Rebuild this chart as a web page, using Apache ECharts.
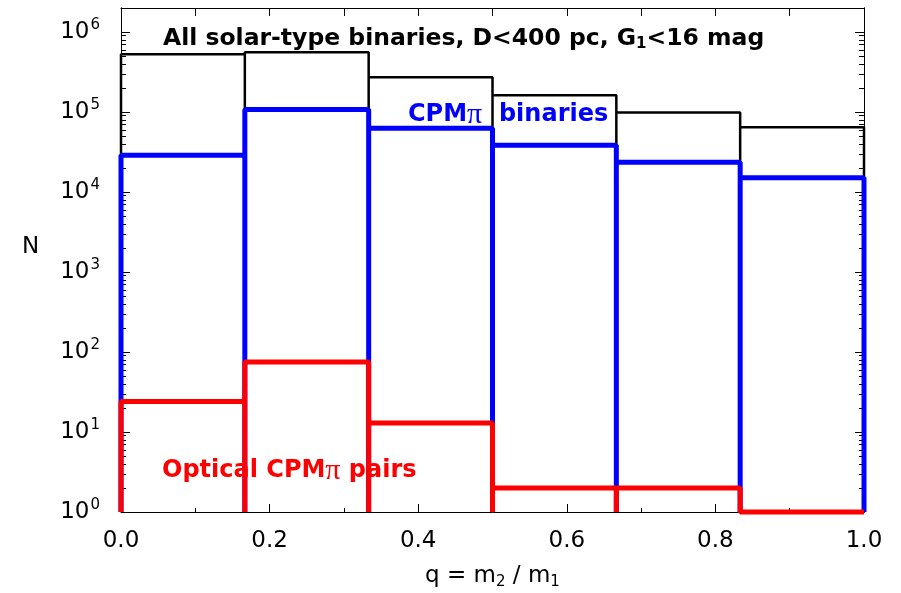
<!DOCTYPE html>
<html>
<head>
<meta charset="utf-8">
<script src="https://cdn.jsdelivr.net/npm/echarts@6/dist/echarts.min.js"></script>
<style>html,body{margin:0;padding:0;background:#fff}#c{width:901px;height:593px}</style>
</head>
<body>
<div id="c"></div>
<script>
// ---- data ----
const binEdges = [0, 1/6, 2/6, 3/6, 4/6, 5/6, 1];
const allSolar = [530000, 560000, 273000, 162000, 99000, 64500];
const cpmBinaries = [28800, 108000, 62700, 38400, 23500, 15100];
const opticalPairs = [24, 75, 13, 2, 2, 1];
const xTickLabels = ['0.0', '0.2', '0.4', '0.6', '0.8', '1.0'];
const yDecades = [1, 10, 100, 1000, 10000, 100000, 1000000];
const yMinorMult = [2, 3, 4, 5, 6, 7, 8, 9];

const yMin = 1, yMax = 2e6;
const FONT = '"DejaVu Sans", sans-serif';
const PIFONT = '"Liberation Serif", "DejaVu Serif", serif';

function outline(vals) {
  const pts = [];
  for (let i = 0; i < vals.length; i++) {
    pts.push([binEdges[i], yMin]);
    pts.push([binEdges[i], vals[i]]);
    pts.push([binEdges[i + 1], vals[i]]);
    pts.push([binEdges[i + 1], yMin]);
  }
  return pts;
}
const minorVals = [];
yDecades.forEach(d => yMinorMult.forEach(m => { if (d * m < yMax) minorVals.push(d * m); }));

const chart = echarts.init(document.getElementById('c'), null, {renderer: 'canvas'});

function yAx(pos, vals, len, labels) {
  return {
    type: 'log', logBase: 10, min: yMin, max: yMax, position: pos,
    axisLine: {show: true, onZero: false, lineStyle: {color: '#000', width: 1}},
    axisTick: {show: true, inside: true, length: len, customValues: vals, lineStyle: {color: '#000', width: 1}},
    minorTick: {show: false},
    splitLine: {show: false},
    axisLabel: labels ? {
      show: true, customValues: yDecades, margin: 21,
      fontFamily: FONT, fontSize: 23, color: '#000',
      formatter: v => '10{sup|' + Math.round(Math.log10(v)) + '}',
      rich: {sup: {fontSize: 15, fontFamily: FONT, verticalAlign: 'top', padding: [0, 0, 14, 1], color: '#000'}}
    } : {show: false}
  };
}

const option = {
  animation: false,
  grid: {left: 121, right: 37, top: 8, bottom: 81, outerBoundsMode: 'none', containLabel: false},
  xAxis: [
    {
      type: 'value', min: 0, max: 1, interval: 0.2, position: 'bottom',
      axisLine: {show: true, onZero: false, lineStyle: {color: '#000', width: 1}},
      axisTick: {show: true, inside: true, length: 8, lineStyle: {color: '#000'}},
      minorTick: {show: true, splitNumber: 2, length: 4, lineStyle: {color: '#000'}},
      splitLine: {show: false},
      axisLabel: {fontFamily: FONT, fontSize: 23, color: '#000', margin: 18,
        formatter: (v) => xTickLabels[Math.round(v * 5)]},
      name: 'q = m{sub|2} / m{sub|1}', nameLocation: 'middle', nameGap: 51,
      nameTextStyle: {fontFamily: FONT, fontSize: 23, color: '#000',
        rich: {sub: {fontFamily: FONT, fontSize: 15, verticalAlign: 'bottom', padding: [12, 0, 0, 0], color: '#000'}}}
    },
    {
      type: 'value', min: 0, max: 1, interval: 0.1, position: 'top',
      axisLine: {show: true, onZero: false, lineStyle: {color: '#000', width: 1}},
      axisTick: {show: true, inside: true, length: 8, lineStyle: {color: '#000'}},
      splitLine: {show: false}, axisLabel: {show: false}
    }
  ],
  yAxis: [
    yAx('left', yDecades, 9, true),
    yAx('left', minorVals, 5, false),
    yAx('right', yDecades, 9, false),
    yAx('right', minorVals, 5, false)
  ],
  series: [
    {type: 'line', name: 'All', data: outline(allSolar), showSymbol: false, symbol: 'none', clip: false,
      lineStyle: {color: '#000', width: 2.5}, z: 2},
    {type: 'line', name: 'CPM', data: outline(cpmBinaries), showSymbol: false, symbol: 'none', clip: false,
      lineStyle: {color: '#0000ff', width: 5}, z: 3},
    {type: 'line', name: 'Optical', data: outline(opticalPairs), showSymbol: false, symbol: 'none', clip: false,
      lineStyle: {color: '#ff0000', width: 5}, z: 4}
  ],
  graphic: [
    {type: 'text', left: 22, top: 236, z: 10, style: {
      text: 'N', fontFamily: FONT, fontSize: 23, fill: '#000'
    }},
    {type: 'text', left: 163, top: 27, z: 10, style: {
      text: 'All solar-type binaries, D<400 pc, G{sub|1}<16 mag',
      fontFamily: FONT, fontSize: 23.5, fontWeight: 'bold', fill: '#000',
      rich: {sub: {fontFamily: FONT, fontSize: 15, fontWeight: 'bold', verticalAlign: 'bottom', padding: [10, 0, 0, 0], fill: '#000'}}
    }},
    {type: 'text', left: 408, top: 100, z: 10, style: {
      text: 'CPM{pi|π}  binaries',
      fontFamily: FONT, fontSize: 24, fontWeight: 'bold', fill: '#0000ff',
      rich: {pi: {fontFamily: PIFONT, fontSize: 30, fontWeight: 'normal', fill: '#0000ff'}}
    }},
    {type: 'text', left: 162, top: 456, z: 10, style: {
      text: 'Optical CPM{pi|π} pairs',
      fontFamily: FONT, fontSize: 24, fontWeight: 'bold', fill: '#ff0000',
      rich: {pi: {fontFamily: PIFONT, fontSize: 30, fontWeight: 'normal', fill: '#ff0000'}}
    }}
  ]
};
chart.setOption(option);
</script>
</body>
</html>
